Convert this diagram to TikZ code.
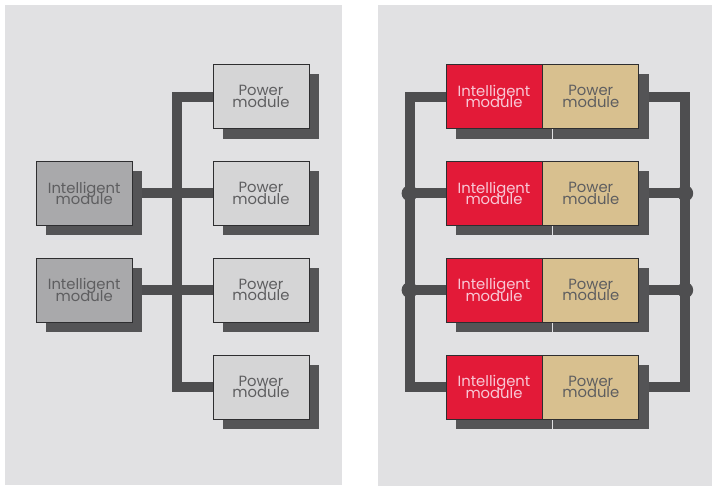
\documentclass[tikz,border=0pt]{standalone}
\usepackage{fontspec}
\setmainfont{Poppins}
\usetikzlibrary{positioning, shadows, backgrounds, calc}
\definecolor{cPanel}{HTML}{E1E1E3}
\definecolor{cPower}{HTML}{D5D5D6}
\definecolor{cSmart}{HTML}{A9A9AB}
\definecolor{cEdge}{HTML}{2E2E30}
\definecolor{cShadow}{HTML}{545456}
\definecolor{cBus}{HTML}{4E4E50}
\definecolor{cRed}{HTML}{E31A38}
\definecolor{cTan}{HTML}{D8C08F}
\definecolor{cText}{HTML}{5E5E60}
\definecolor{cPink}{HTML}{F8C8D6}
\newcommand{\modfont}{\fontsize{14.8}{11.6}\selectfont\lineskiplimit -10pt\relax}

\begin{document}
\begin{tikzpicture}[
  x=1pt, y=-1pt,
  font=\modfont,
  node distance = 32pt,
  mbox/.style     = {rectangle, draw=cEdge, line width=0.8pt, align=center,
                     minimum width=96pt, minimum height=64pt, inner sep=0pt,
                     drop shadow={shadow xshift=10pt, shadow yshift=-10pt,
                                  fill=cShadow, opacity=1}},
  power/.style    = {mbox, fill=cPower, text=cText},
  smart/.style    = {mbox, fill=cSmart, text=cText},
  redsmart/.style = {mbox, fill=cRed, text=cPink},
  tanpower/.style = {mbox, fill=cTan, text=cText},
  bus/.style      = {draw=cBus, line width=10pt},
  joint/.style    = {fill=cBus}]

\useasboundingbox (0,0) rectangle (712,487);

% ---- left panel: two intelligent modules on one shared bus -----------------
\node[power] (p1) at (261,96.5) {Power\\module};
\node[power, below=of p1] (p2) {Power\\module};
\node[power, below=of p2] (p3) {Power\\module};
\node[power, below=of p3] (p4) {Power\\module};
\node[smart, left=80pt of p2] (i1) {Intelligent\\module};
\node[smart, left=80pt of p3] (i2) {Intelligent\\module};

% ---- right panel: one intelligent module per power module ------------------
\node[redsmart] (r1) at (494,96.5) {Intelligent\\module};
\node[redsmart, below=of r1] (r2) {Intelligent\\module};
\node[redsmart, below=of r2] (r3) {Intelligent\\module};
\node[redsmart, below=of r3] (r4) {Intelligent\\module};
\node[tanpower, right=0pt of r1] (w1) {Power\\module};
\node[tanpower, right=0pt of r2] (w2) {Power\\module};
\node[tanpower, right=0pt of r3] (w3) {Power\\module};
\node[tanpower, right=0pt of r4] (w4) {Power\\module};

\begin{pgfonlayer}{background}
  \fill[cPanel] (5,5) rectangle (342,485);
  \fill[cPanel] (378,5) rectangle (712,486);

  % left bus
  \draw[bus] (p1.west) -- ++(-36,0) coordinate (lbus) |- (p4.west);
  \draw[bus] (i1.east) -- (p2.west);
  \draw[bus] (i2.east) -- (p3.west);
  \fill[joint] (lbus |- i1.east) circle (6.5pt);
  \fill[joint] (lbus |- i2.east) circle (6.5pt);

  % right buses (both sides)
  \draw[bus] (r1.west) -- ++(-36,0) coordinate (rbusA) |- (r4.west);
  \draw[bus] (w1.east) -- ++(46,0) coordinate (rbusB) |- (w4.east);
  \draw[bus] (r2.west) -- (rbusA |- r2.west);
  \draw[bus] (r3.west) -- (rbusA |- r3.west);
  \draw[bus] (w2.east) -- (rbusB |- w2.east);
  \draw[bus] (w3.east) -- (rbusB |- w3.east);
  \foreach \n in {r2, r3} {
    \fill[joint] (rbusA |- \n.west) circle (8pt);
    \fill[joint] (rbusB |- \n.west) circle (8pt);
  }
\end{pgfonlayer}

\end{tikzpicture}
\end{document}
